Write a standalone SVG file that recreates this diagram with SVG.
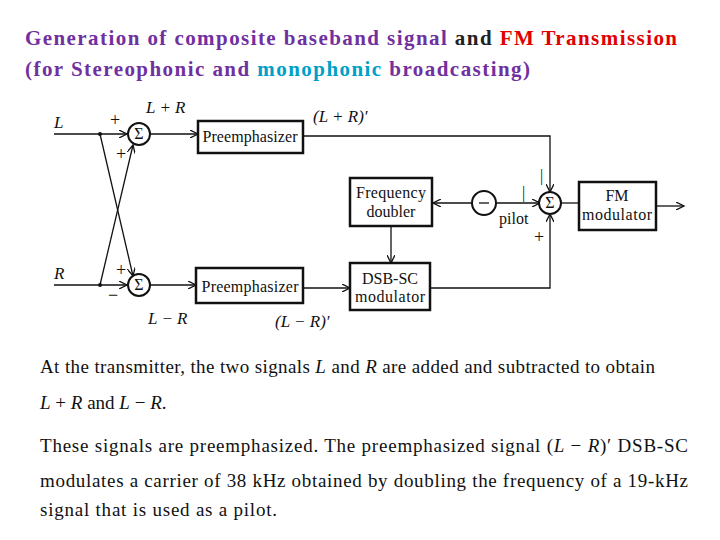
<svg xmlns="http://www.w3.org/2000/svg" width="720" height="540" viewBox="0 0 720 540">
<style>
.t{font-family:"Liberation Serif",serif;font-weight:bold;font-size:21px}
.b{font-family:"Liberation Serif",serif;font-size:16px;fill:#111}
.s{font-family:"Liberation Serif",serif;font-size:18px;fill:#111}
.i{font-family:"Liberation Serif",serif;font-style:italic;font-size:17px;fill:#111}
.p{font-family:"Liberation Serif",serif;font-size:19px;fill:#111}
.box{fill:#fff;stroke:#111;stroke-width:2.5}
.c{fill:#fff;stroke:#111;stroke-width:2}
.l{fill:none;stroke:#111;stroke-width:1.3}
</style>
<defs><marker id="a" markerWidth="10" markerHeight="8" refX="8" refY="4" orient="auto" markerUnits="userSpaceOnUse"><path d="M0,0 L8,4 L0,8" fill="none" stroke="#111" stroke-width="1.3"/></marker></defs>
<rect width="720" height="540" fill="#fff"/>
<text class="t" x="25" y="45" textLength="652" lengthAdjust="spacing"><tspan fill="#7030A0">Generation of composite baseband signal </tspan><tspan fill="#222">and </tspan><tspan fill="#E00000">FM Transmission</tspan></text>
<text class="t" x="25" y="76" textLength="505" lengthAdjust="spacing"><tspan fill="#7030A0">(for Stereophonic and </tspan><tspan fill="#00A0C8">monophonic</tspan><tspan fill="#7030A0"> broadcasting)</tspan></text>
<g id="connectors">
<path class="l" d="M54,134 H127" marker-end="url(#a)"/>
<path class="l" d="M54,285 H127" marker-end="url(#a)"/>
<path class="l" d="M100,134 L133,276" marker-end="url(#a)"/>
<path class="l" d="M100,285 L133,145" marker-end="url(#a)"/>
<path class="l" d="M150,134 H198" marker-end="url(#a)"/>
<path class="l" d="M150,285 H196" marker-end="url(#a)"/>
<path class="l" d="M303,136 H550 V192" marker-end="url(#a)"/>
<path class="l" d="M303,288 H350" marker-end="url(#a)"/>
<path class="l" d="M472,203 H433" marker-end="url(#a)"/>
<path class="l" d="M496,203 H540" marker-end="url(#a)"/>
<path class="l" d="M560,203 H579"/>
<path class="l" d="M656,206 H684" marker-end="url(#a)"/>
<path class="l" d="M391,226 V263" marker-end="url(#a)"/>
<path class="l" d="M430,288 H550 V214" marker-end="url(#a)"/>
<circle cx="100" cy="134" r="2" fill="#111"/>
<circle cx="100" cy="285" r="2" fill="#111"/>
</g>
<g id="sum1"><circle class="c" cx="139" cy="134" r="11"/><text class="b" x="139" y="139" text-anchor="middle">Σ</text></g>
<g id="sum2"><circle class="c" cx="139" cy="285" r="11"/><text class="b" x="139" y="290" text-anchor="middle">Σ</text></g>
<g id="sum3"><circle class="c" cx="550" cy="203" r="11"/><text class="b" x="550" y="208" text-anchor="middle">Σ</text></g>
<g id="osc"><circle class="c" cx="484" cy="203" r="12"/><path class="l" d="M479,203 H489"/></g>
<g id="pre1"><rect class="box" x="198" y="121" width="105" height="32"/><text class="b" x="250" y="142" text-anchor="middle" textLength="95">Preemphasizer</text></g>
<g id="pre2"><rect class="box" x="196" y="268" width="107" height="35"/><text class="b" x="250" y="292" text-anchor="middle" textLength="97">Preemphasizer</text></g>
<g id="fd"><rect class="box" x="350" y="178" width="82" height="48"/><text class="b" x="391" y="198" text-anchor="middle" textLength="70">Frequency</text><text class="b" x="391" y="217" text-anchor="middle">doubler</text></g>
<g id="dsb"><rect class="box" x="350" y="263" width="80" height="47"/><text class="b" x="390" y="284" text-anchor="middle">DSB-SC</text><text class="b" x="390" y="302" text-anchor="middle" textLength="70">modulator</text></g>
<g id="fm"><rect class="box" x="579" y="182" width="77" height="48"/><text class="b" x="617" y="201" text-anchor="middle">FM</text><text class="b" x="617" y="220" text-anchor="middle" textLength="70">modulator</text></g>
<g id="labels">
<text class="i" x="54" y="128">L</text>
<text class="i" x="54" y="279">R</text>
<text class="s" x="110" y="126">+</text>
<text class="s" x="116" y="160">+</text>
<text class="s" x="116" y="276">+</text>
<text class="s" x="108" y="301">−</text>
<text class="i" x="146" y="113">L + R</text>
<text class="i" x="313" y="122">(L + R)′</text>
<text class="i" x="148" y="324">L − R</text>
<text class="i" x="275" y="327">(L − R)′</text>
<text class="b" x="540" y="181">|</text>
<text class="b" x="522" y="198">|</text>
<text class="b" x="499" y="224">pilot</text>
<text class="s" x="534" y="243">+</text>
</g>
<g id="body">
<text class="p" x="40" y="373" textLength="615" lengthAdjust="spacing">At the  transmitter, the two signals <tspan font-style="italic">L</tspan> and <tspan font-style="italic">R</tspan> are added and subtracted to obtain</text>
<text class="p" x="40" y="409"><tspan font-style="italic">L</tspan> + <tspan font-style="italic">R</tspan> and <tspan font-style="italic">L</tspan> − <tspan font-style="italic">R</tspan>.</text>
<text class="p" x="40" y="452" textLength="648" lengthAdjust="spacing">These signals are preemphasized. The preemphasized signal (<tspan font-style="italic">L</tspan> − <tspan font-style="italic">R</tspan>)′  DSB-SC</text>
<text class="p" x="40" y="487" textLength="648" lengthAdjust="spacing">modulates a carrier  of 38 kHz obtained by doubling the frequency of a  19-kHz</text>
<text class="p" x="40" y="516" textLength="237" lengthAdjust="spacing">signal  that is used as a pilot.</text>
</g>
</svg>
